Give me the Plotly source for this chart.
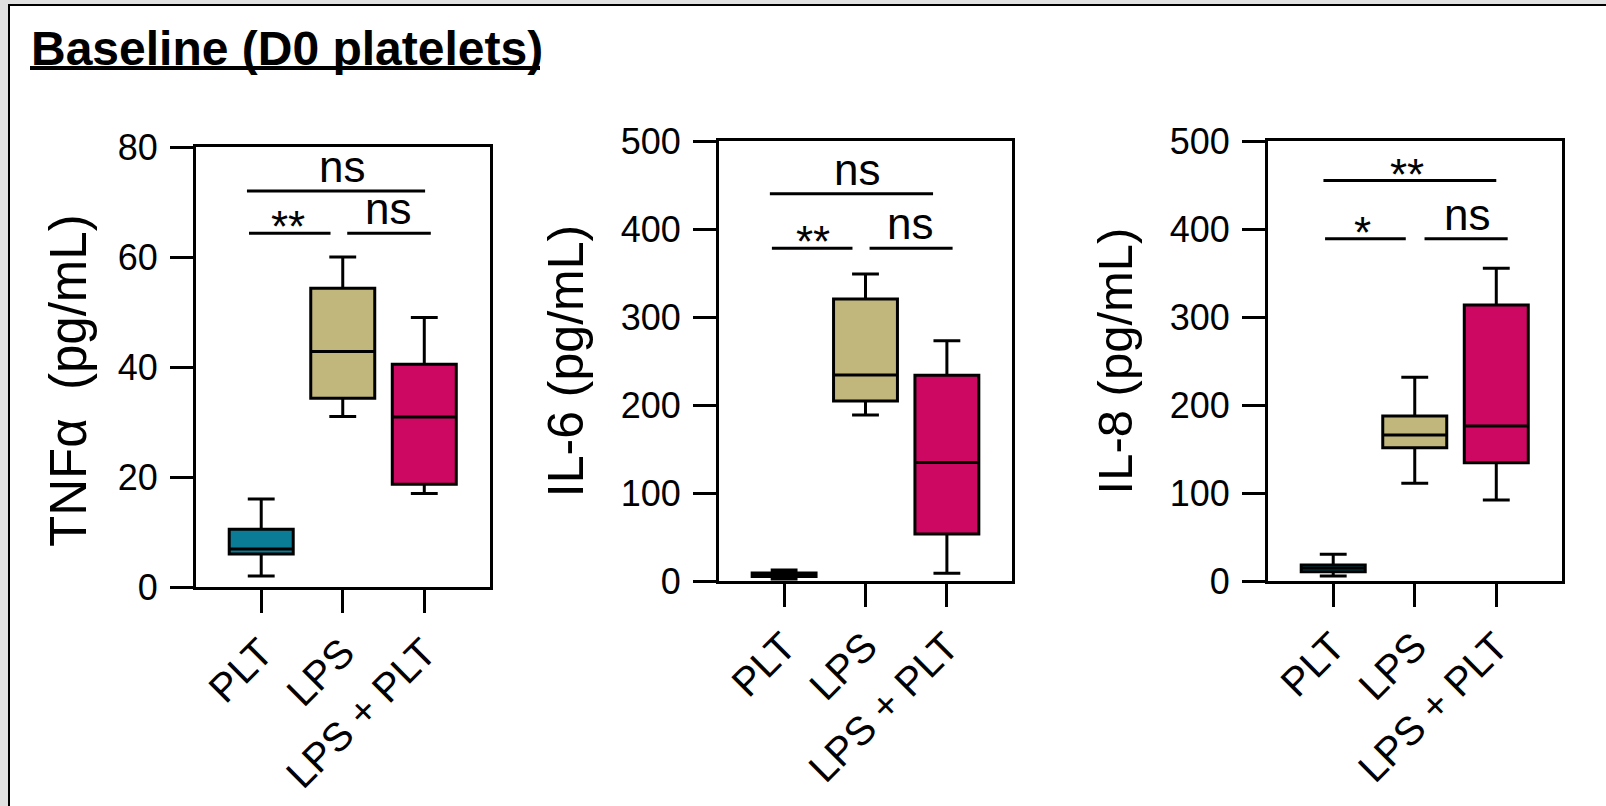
import plotly.graph_objects as go

W, H = 1606, 806

# ---------------- data ----------------
categories = ["PLT", "LPS", "LPS + PLT"]
group_colors = ["#0B7C95", "#C1B67C", "#CD0862"]

tnf_lower = [2.0, 31.0, 17.0]
tnf_q1 = [6.0, 34.3, 18.7]
tnf_median = [6.9, 42.8, 30.9]
tnf_q3 = [10.5, 54.3, 40.5]
tnf_upper = [16.0, 60.0, 49.0]

il6_lower = [2.3, 188.6, 8.7]
il6_q1 = [5.0, 204.5, 53.4]
il6_median = [7.0, 234.0, 134.8]
il6_q3 = [9.0, 320.5, 233.7]
il6_upper = [12.5, 349.0, 273.0]

il8_lower = [5.7, 111.0, 92.0]
il8_q1 = [10.6, 151.5, 134.5]
il8_median = [14.4, 165.9, 176.0]
il8_q3 = [18.2, 187.5, 313.6]
il8_upper = [30.3, 231.4, 355.3]

y_titles = ["TNF\u03b1  (pg/mL)", "IL-6 (pg/mL)", "IL-8 (pg/mL)"]
y_title_sizes = [51, 50, 49]
y_ranges = [[0, 80], [0, 500], [0, 500]]
y_dtick = [20, 100, 100]

# significance brackets: label, y, x start, x end, label x
tnf_sig_labels = ["ns", "**", "ns"]
tnf_sig_y = [72.0, 64.3, 64.3]
tnf_sig_x0 = [-0.175, -0.15, 1.055]
tnf_sig_x1 = [2.01, 0.85, 2.08]
tnf_sig_tx = [0.99, 0.33, 1.56]

il6_sig_labels = ["ns", "**", "ns"]
il6_sig_y = [440.0, 378.0, 378.0]
il6_sig_x0 = [-0.175, -0.15, 1.05]
il6_sig_x1 = [1.83, 0.84, 2.07]
il6_sig_tx = [0.90, 0.35, 1.55]

il8_sig_labels = ["**", "*", "ns"]
il8_sig_y = [455.0, 389.0, 389.0]
il8_sig_x0 = [-0.12, -0.10, 1.12]
il8_sig_x1 = [2.00, 0.89, 2.14]
il8_sig_tx = [0.91, 0.36, 1.64]

title_text = "Baseline (D0 platelets)"

# ---------------- layout geometry (pixels) ----------------
panels_px = [  # x_left, x_right, y_top, y_bottom
    (196, 489.5, 147, 587),
    (719, 1012, 141, 581),
    (1268, 1561.5, 141, 581),
]
# first panel's y title is placed as a rotated annotation (centre in px)
tnf_title_center_px = (68, 381)

FONT = "Liberation Sans, Arial, sans-serif"

stats = [
    (tnf_lower, tnf_q1, tnf_median, tnf_q3, tnf_upper),
    (il6_lower, il6_q1, il6_median, il6_q3, il6_upper),
    (il8_lower, il8_q1, il8_median, il8_q3, il8_upper),
]
sigs = [
    (tnf_sig_labels, tnf_sig_y, tnf_sig_x0, tnf_sig_x1, tnf_sig_tx),
    (il6_sig_labels, il6_sig_y, il6_sig_x0, il6_sig_x1, il6_sig_tx),
    (il8_sig_labels, il8_sig_y, il8_sig_x0, il8_sig_x1, il8_sig_tx),
]

fig = go.Figure()
shapes = []
annotations = []

# background frame
shapes.append(dict(type="rect", xref="paper", yref="paper",
                   x0=9 / W, x1=1.0, y0=0.0, y1=1 - 5 / H,
                   fillcolor="white", line=dict(width=0), layer="below"))
shapes.append(dict(type="line", xref="paper", yref="paper",
                   x0=8 / W, x1=1.0, y0=1 - 5 / H, y1=1 - 5 / H,
                   line=dict(color="black", width=2), layer="below"))
shapes.append(dict(type="line", xref="paper", yref="paper",
                   x0=9 / W, x1=9 / W, y0=0.0, y1=1 - 4 / H,
                   line=dict(color="black", width=2), layer="below"))

for p, (xl, xr, yt, yb) in enumerate(panels_px):
    ax = "" if p == 0 else str(p + 1)
    xa, ya = "x" + ax, "y" + ax
    lo, q1, med, q3, up = stats[p]
    for g, cat in enumerate(categories):
        fig.add_trace(go.Box(
            x=[cat], q1=[q1[g]], median=[med[g]], q3=[q3[g]],
            lowerfence=[lo[g]], upperfence=[up[g]],
            fillcolor=group_colors[g],
            line=dict(color="black", width=3),
            width=0.785, whiskerwidth=0.42,
            boxpoints=False, showlegend=False, hoverinfo="skip",
            xaxis=xa, yaxis=ya,
        ))
    axis_common = dict(
        showline=True, linecolor="black", linewidth=3, mirror=True,
        ticks="outside", ticklen=23, tickwidth=3, tickcolor="black",
        showgrid=False, zeroline=False, automargin=False,
    )
    ytitle = (dict(text="") if p == 0 else
              dict(text=y_titles[p], standoff=22,
                   font=dict(family=FONT, size=y_title_sizes[p], color="black")))
    fig.update_layout(**{
        ("xaxis" + ax): dict(
            axis_common, type="category", categoryorder="array",
            categoryarray=categories, range=[-0.8, 2.8],
            tickangle=-45, anchor=ya,
            domain=[xl / W, xr / W],
            tickfont=dict(family=FONT, size=40, color="black"),
        ),
        ("yaxis" + ax): dict(
            axis_common, range=y_ranges[p], dtick=y_dtick[p], tick0=0,
            anchor=xa, domain=[1 - yb / H, 1 - yt / H],
            ticklabelstandoff=5,
            tickfont=dict(family=FONT, size=36, color="black"),
            title=ytitle,
        ),
    })
    labels, ys, x0s, x1s, txs = sigs[p]
    for lab, yv, x0, x1, tx in zip(labels, ys, x0s, x1s, txs):
        shapes.append(dict(type="line", xref=xa, yref=ya, x0=x0, x1=x1,
                           y0=yv, y1=yv, line=dict(color="black", width=3)))
        annotations.append(dict(
            xref=xa, yref=ya, x=tx, y=yv, text=lab, showarrow=False,
            xanchor="center", yanchor="bottom",
            yshift=(-2 if lab == "ns" else -20),
            font=dict(family=FONT, size=44, color="black"),
        ))

# TNF y-axis title as rotated annotation
annotations.append(dict(
    xref="paper", yref="paper",
    x=tnf_title_center_px[0] / W, y=1 - tnf_title_center_px[1] / H,
    text=y_titles[0], textangle=-90, showarrow=False,
    xanchor="center", yanchor="middle",
    font=dict(family=FONT, size=y_title_sizes[0], color="black"),
))

# title with underline
annotations.append(dict(
    xref="paper", yref="paper", x=29 / W, y=1 - 20 / H, text="<b>" + title_text + "</b>",
    showarrow=False, xanchor="left", yanchor="top",
    font=dict(family=FONT, size=48, color="black"),
))
shapes.append(dict(type="line", xref="paper", yref="paper",
                   x0=30 / W, x1=540 / W, y0=1 - 68 / H, y1=1 - 68 / H,
                   line=dict(color="black", width=4)))

fig.update_layout(
    template="none",
    width=W, height=H,
    margin=dict(l=0, r=0, t=0, b=0),
    paper_bgcolor="#e1e1e1",
    plot_bgcolor="white",
    boxmode="overlay",
    showlegend=False,
    shapes=shapes,
    annotations=annotations,
    font=dict(family=FONT, color="black"),
)

fig.write_html("out.html", config={"displayModeBar": False})
